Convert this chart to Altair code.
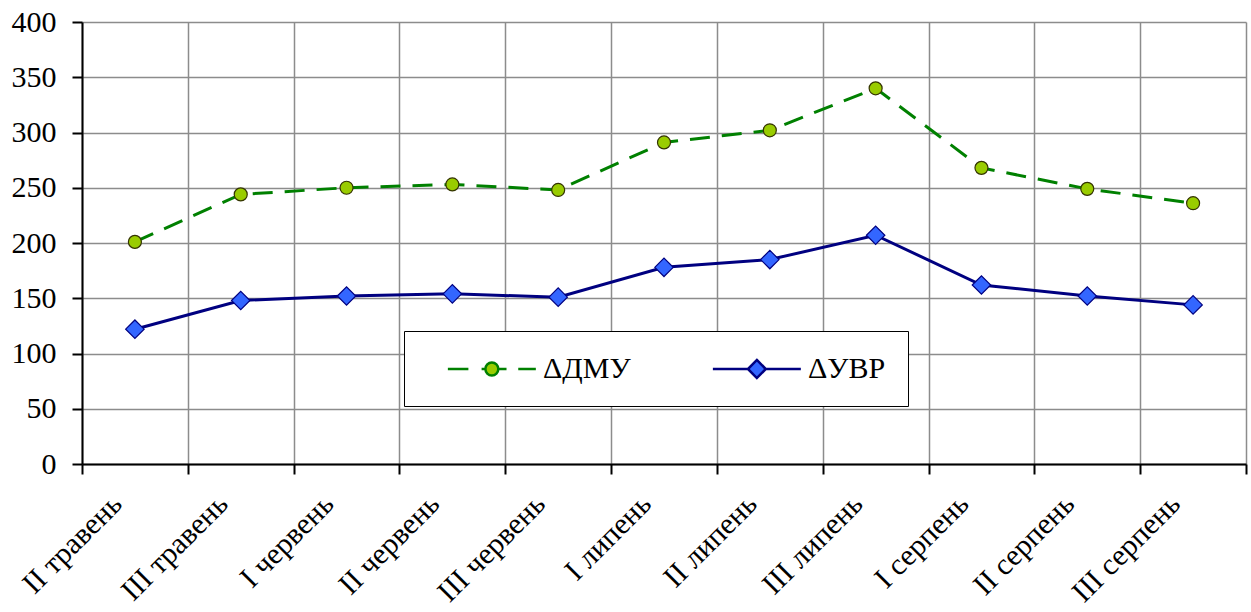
import altair as alt
import pandas as pd

periods = ["II травень", "III травень", "I червень", "II червень", "III червень",
           "I липень", "II липень", "III липень", "I серпень", "II серпень", "III серпень"]
dmu = [201, 244, 250, 253, 248, 291, 302, 340, 268, 249, 236]
uvr = [122, 148, 152, 154, 151, 178, 185, 207, 162, 152, 144]
series_names = ["ΔДМУ", "ΔУВР"]
y_ticks = [0, 50, 100, 150, 200, 250, 300, 350, 400]

rows = []
for p, a, b in zip(periods, dmu, uvr):
    rows.append({"period": p, "series": series_names[0], "value": a})
    rows.append({"period": p, "series": series_names[1], "value": b})
df = pd.DataFrame(rows)

FONT = "Liberation Serif"
FS = 30

x = alt.X("period:N", sort=periods,
          scale=alt.Scale(type="band", paddingInner=0, paddingOuter=0),
          axis=alt.Axis(title=None, tickBand="extent", grid=True, labelAngle=315,
                        labelAlign="right", labelBaseline="middle", labelPadding=25,
                        labelOffset=-18, tickSize=10, labelFont=FONT, labelFontSize=FS))
y = alt.Y("value:Q", scale=alt.Scale(domain=[0, 400], nice=False),
          axis=alt.Axis(title=None, values=y_ticks, tickSize=10, labelPadding=16,
                        labelFont=FONT, labelFontSize=FS))

is_dmu = alt.datum.series == series_names[0]
is_uvr = alt.datum.series == series_names[1]

line_dmu = alt.Chart(df).transform_filter(is_dmu).mark_line(
    strokeWidth=3, stroke="#008000", strokeDash=[20, 12]).encode(x=x, y=y)
line_uvr = alt.Chart(df).transform_filter(is_uvr).mark_line(
    strokeWidth=3, stroke="#000080").encode(x=x, y=y)

pts_dmu = alt.Chart(df).transform_filter(is_dmu).mark_point(
    shape="circle", filled=True, size=169, fill="#99CC00", stroke="#333300", strokeWidth=1.2, opacity=1
).encode(x=x, y=y)

pts_uvr = alt.Chart(df).transform_filter(is_uvr).mark_point(
    shape="diamond", filled=True, size=340, fill="#3366FF", stroke="#000080", strokeWidth=1.2, opacity=1
).encode(x=x, y=y)

# legend symbols: line + marker drawn as one symbol path
path_dmu = ("M0.4,0H1.8M2.7,0H3.0M3.84,0A0.44,0.44 0 1,1 2.96,0A0.44,0.44 0 1,1 3.84,0Z"
            "M3.84,0H4.4M5.2,0H6.4")
path_uvr = "M0.4,0H2.79M4.01,0H6.4M3.4,-0.62L4.01,0L3.4,0.62L2.79,0Z"

leg = alt.Legend(title=None, orient="none", legendX=322, legendY=309, direction="horizontal",
                 fillColor="white", strokeColor="black", padding=22,
                 labelFont=FONT, labelFontSize=FS, labelColor="black", labelOffset=85,
                 columnPadding=60, symbolSize=860, symbolStrokeWidth=2.5, labelLimit=300)

legend_layer = alt.Chart(df).transform_filter("datum.value < 0").mark_point(
    filled=True, size=860, strokeWidth=2.5, opacity=1
).encode(
    x=x, y=y,
    shape=alt.Shape("series:N", scale=alt.Scale(domain=series_names, range=[path_dmu, path_uvr]), legend=leg),
    fill=alt.Fill("series:N", scale=alt.Scale(domain=series_names, range=["#99CC00", "#3366FF"]), legend=leg),
    stroke=alt.Stroke("series:N", scale=alt.Scale(domain=series_names, range=["#008000", "#000080"]), legend=leg),
)

chart = alt.layer(line_dmu, line_uvr, pts_dmu, pts_uvr, legend_layer).properties(
    width=1164, height=442,
    padding={"left": 82, "top": 22, "right": 5, "bottom": 148},
    autosize=alt.AutoSizeParams(type="none"),
    background="white",
).configure_view(stroke=None).configure_axis(
    labelFont=FONT, labelFontSize=FS, labelColor="black",
    domainColor="black", domainWidth=2, tickColor="black", tickWidth=2,
    gridColor="#8c8c8c", gridWidth=1.5,
).configure_legend(labelFont=FONT, labelFontSize=FS, labelColor="black")

chart.save("out.html", embed_options={"renderer": "svg", "actions": False})
